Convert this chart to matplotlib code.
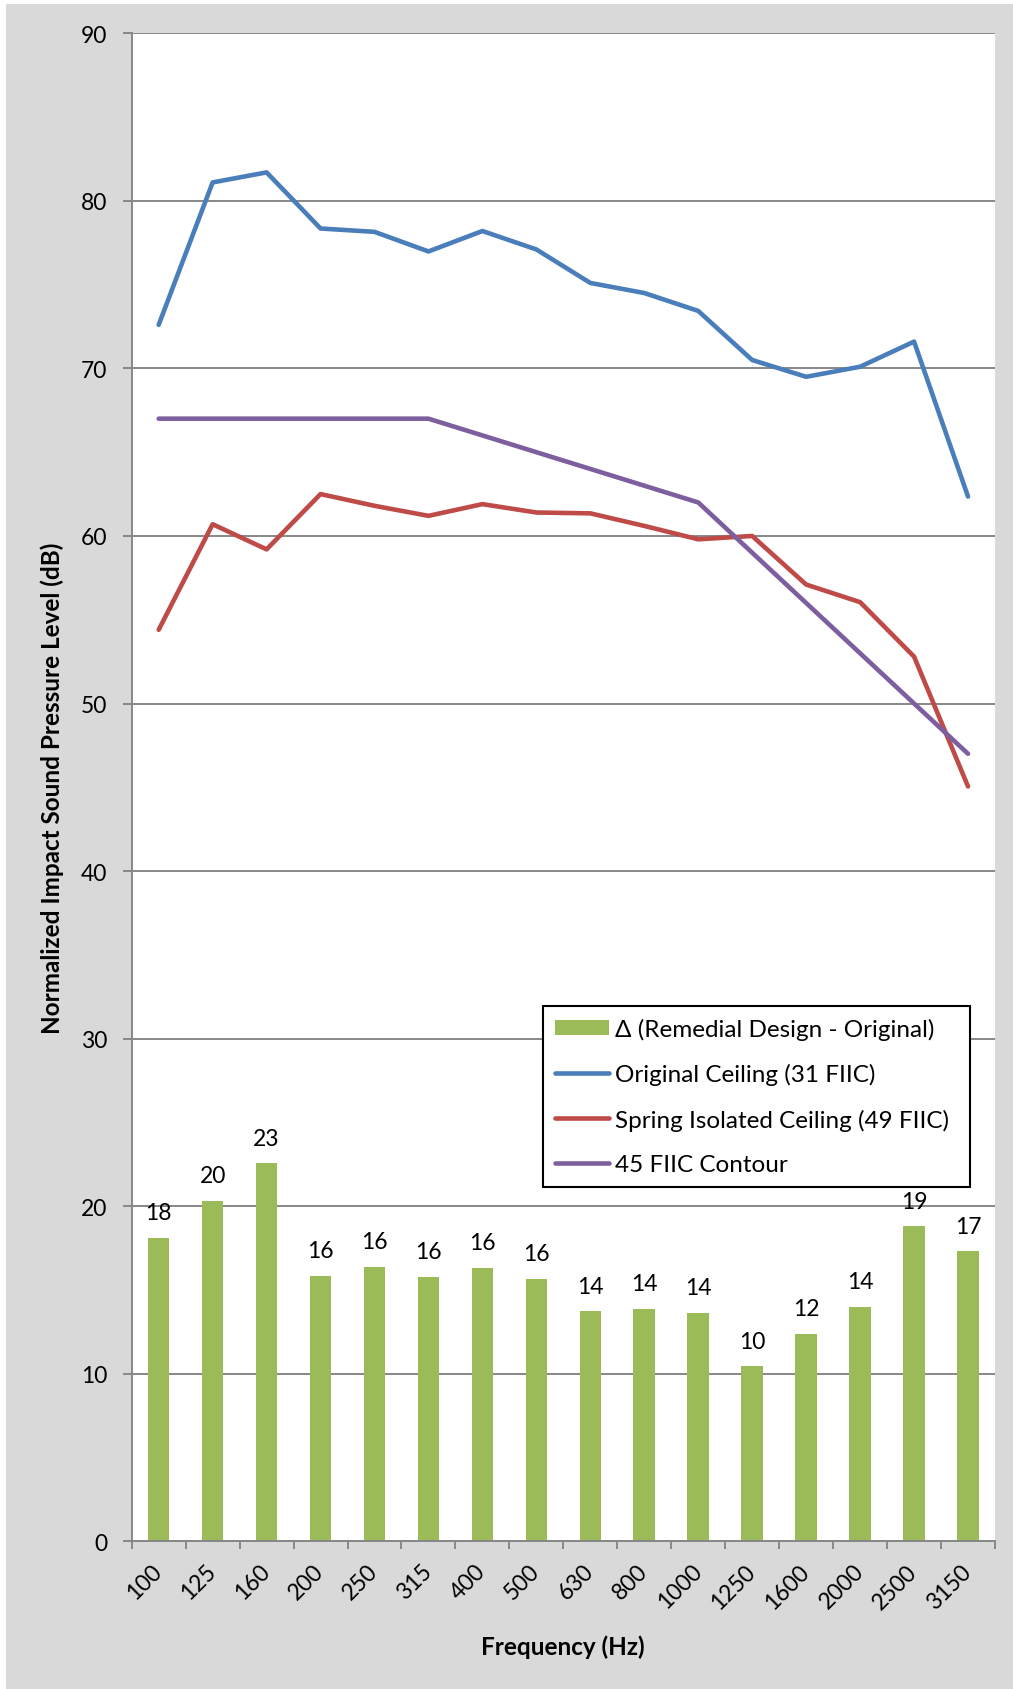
import matplotlib
matplotlib.use("Agg")
import matplotlib.pyplot as plt
from matplotlib.patches import Rectangle, Patch
from matplotlib.lines import Line2D
import numpy as np

plt.rcParams['font.family'] = ['Lato', 'DejaVu Sans']

freqs = ["100", "125", "160", "200", "250", "315", "400", "500", "630", "800",
         "1000", "1250", "1600", "2000", "2500", "3150"]
original = [72.6, 81.1, 81.7, 78.35, 78.15, 76.98, 78.2, 77.1, 75.1, 74.5,
            73.43, 70.5, 69.5, 70.1, 71.6, 62.35]
spring = [54.4, 60.7, 59.2, 62.5, 61.8, 61.2, 61.9, 61.4, 61.35, 60.6,
          59.8, 60.0, 57.1, 56.05, 52.8, 45.05]
contour = [67, 67, 67, 67, 67, 67, 66, 65, 64, 63, 62, 59, 56, 53, 50, 47]
delta = [18.1, 20.33, 22.55, 15.86, 16.4, 15.8, 16.33, 15.66, 13.73, 13.87,
         13.63, 10.44, 12.4, 14.0, 18.8, 17.3]

names = ["\u0394 (Remedial Design - Original)", "Original Ceiling (31 FIIC)",
         "Spring Isolated Ceiling (49 FIIC)", "45 FIIC Contour"]
c_bar, c_blue, c_red, c_purple = "#9BBB59", "#4A7EBB", "#BE4B48", "#7D5FA0"
grid_c = "#878787"

W, H = 1013, 1690
fig = plt.figure(figsize=(W / 100, H / 100), dpi=100, facecolor="white")
bg = Rectangle((6 / W, 0), 1 - 6 / W, 1 - 5 / H, transform=fig.transFigure,
               facecolor="#D9D9D9", edgecolor="none", zorder=-10)
fig.add_artist(bg)

x0, x1, ytop, ybot = 131.7, 995, 34.3, 1542.3
ax = fig.add_axes([x0 / W, 1 - ybot / H, (x1 - x0) / W, (ybot - ytop) / H])
ax.set_facecolor("white")

x = np.arange(len(freqs))
bars = ax.bar(x, delta, width=0.40, color=c_bar, zorder=2)
ax.plot(x, original, color=c_blue, lw=3.3, zorder=3, solid_capstyle="round", solid_joinstyle="round")
ax.plot(x, spring, color=c_red, lw=3.3, zorder=3, solid_capstyle="round", solid_joinstyle="round")
ax.plot(x, contour, color=c_purple, lw=3.3, zorder=3, solid_capstyle="round", solid_joinstyle="round")

for xi, v in zip(x, delta):
    ax.annotate(f"{v:.0f}", (xi, v), xytext=(0, 10.5), textcoords="offset points",
                ha="center", va="bottom", fontsize=16.5, color="black", zorder=4)

ax.set_xlim(-0.5, len(freqs) - 0.5)
ax.set_ylim(0, 90)
ax.set_yticks(np.arange(0, 91, 10))
ax.yaxis.grid(True, color=grid_c, lw=1.4, zorder=1)
ax.set_axisbelow(True)
ax.tick_params(axis="y", direction="out", length=6.5, width=1.4, color=grid_c,
               pad=11, labelsize=16.5)

ax.set_xticks(x)
ax.set_xticklabels(freqs, rotation=45, ha="right", va="center", rotation_mode="anchor")
ax.set_xticks(np.arange(-0.5, len(freqs), 1.0), minor=True)
ax.tick_params(axis="x", which="major", length=0, pad=19, labelsize=16.5)
ax.tick_params(axis="x", which="minor", direction="out", length=6, width=1.4, color=grid_c)

for s in ["top", "right"]:
    ax.spines[s].set_visible(False)
for s in ["left", "bottom"]:
    ax.spines[s].set_color(grid_c)
    ax.spines[s].set_linewidth(1.4)

handles = [Patch(facecolor=c_bar, edgecolor="none"),
           Line2D([0], [0], color=c_blue, lw=3.3, solid_capstyle="round"),
           Line2D([0], [0], color=c_red, lw=3.3, solid_capstyle="round"),
           Line2D([0], [0], color=c_purple, lw=3.3, solid_capstyle="round")]
lx0 = (543 - x0) / (x1 - x0)
lx1 = (970 - x0) / (x1 - x0)
lyt = (ybot - 1007) / (ybot - ytop)
leg = ax.legend(handles, names, loc="upper left", bbox_to_anchor=(lx0, lyt - 0.2, lx1 - lx0, 0.2),
                mode="expand", borderaxespad=0, fontsize=17.5, frameon=True, fancybox=False,
                edgecolor="black", facecolor="white", framealpha=1, handlelength=2.2,
                handletextpad=0.25, labelspacing=0.95, borderpad=0.5, handleheight=0.6)
leg.get_frame().set_linewidth(1.5)
leg.set_zorder(5)

fig.text(52 / W, 1 - 788 / H, "Normalized Impact Sound Pressure Level (dB)", rotation=90,
         ha="center", va="center", fontsize=17.5, fontweight="bold")
fig.text(563 / W, 1 - 1647 / H, "Frequency (Hz)", ha="center", va="center",
         fontsize=17.5, fontweight="bold")

fig.savefig("out.png", dpi=100, facecolor=fig.get_facecolor())
